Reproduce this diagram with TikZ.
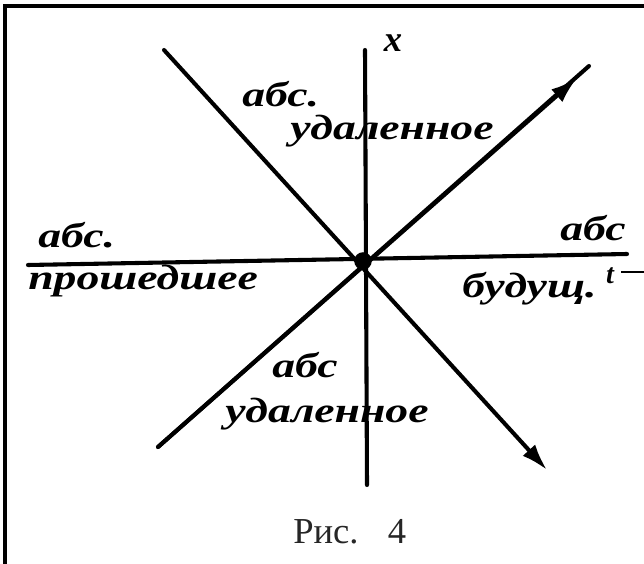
\documentclass[tikz,border=0pt]{standalone}
\usepackage{fontspec}
\setmainfont{Liberation Serif}
\newfontfamily\handfont[FakeStretch=1.3]{Liberation Serif}
\usetikzlibrary{arrows.meta}
\tikzset{axis/.style={line width=2.9pt,line cap=round},hand/.style={font=\handfont\bfseries\itshape\fontsize{25}{25}\selectfont,inner sep=0pt,anchor=base west},tip/.style={-{Latex[length=19pt,width=12pt]}}}
\begin{document}
\begin{tikzpicture}[x=0.025cm,y=-0.025cm]
\useasboundingbox (0,0) rectangle (644,564);
\draw[line width=2.2pt] (5,564)--(5,6)--(644,6);
\coordinate (xtop) at (365,50);
\coordinate (xbot) at (367,485);
\coordinate (tlft) at (28,265);
\coordinate (trgt) at (627,254);
\coordinate (nw) at (164,50);
\coordinate (se) at (547,470);
\coordinate (sw) at (158,447);
\coordinate (nemid) at (577,78);
\coordinate (ne) at (589,66);
\draw[axis] (xbot)--(xtop);
\draw[axis] (tlft)--(trgt);
\draw[axis,tip] (nw)--(se);
\draw[axis] (sw)--(ne);
\draw[axis,tip] (sw)--(nemid);
\node[circle,fill,inner sep=0pt,minimum size=12.5pt] (o) at (363,261) {};
\node[font=\bfseries\itshape\fontsize{26}{26}\selectfont] (xl) at (393,43) {x};
\node[font=\bfseries\itshape\fontsize{20}{20}\selectfont,anchor=base] (tl) at (610,283) {t};
\draw[line width=1.6pt] (621,272)--(644,272);
\node[hand] (ua) at (242,107) {абс.};
\node[hand] (ub) at (290,140) {удаленное};
\node[hand] (la) at (38,247) {абс.};
\node[hand] (lb) at (28,289) {прошедшее};
\node[hand,anchor=base east] (ra) at (626,240) {абс};
\node[hand] (rb) at (462,297) {будущ.};
\node[hand] (da) at (272,377) {абс};
\node[hand] (db) at (225,422) {удаленное};
\node[font=\fontsize{26}{26}\selectfont,text=black!85,anchor=base west,inner sep=0pt] (cap) at (293,543) {Рис.\hspace{0.8em}4};
\end{tikzpicture}
\end{document}
